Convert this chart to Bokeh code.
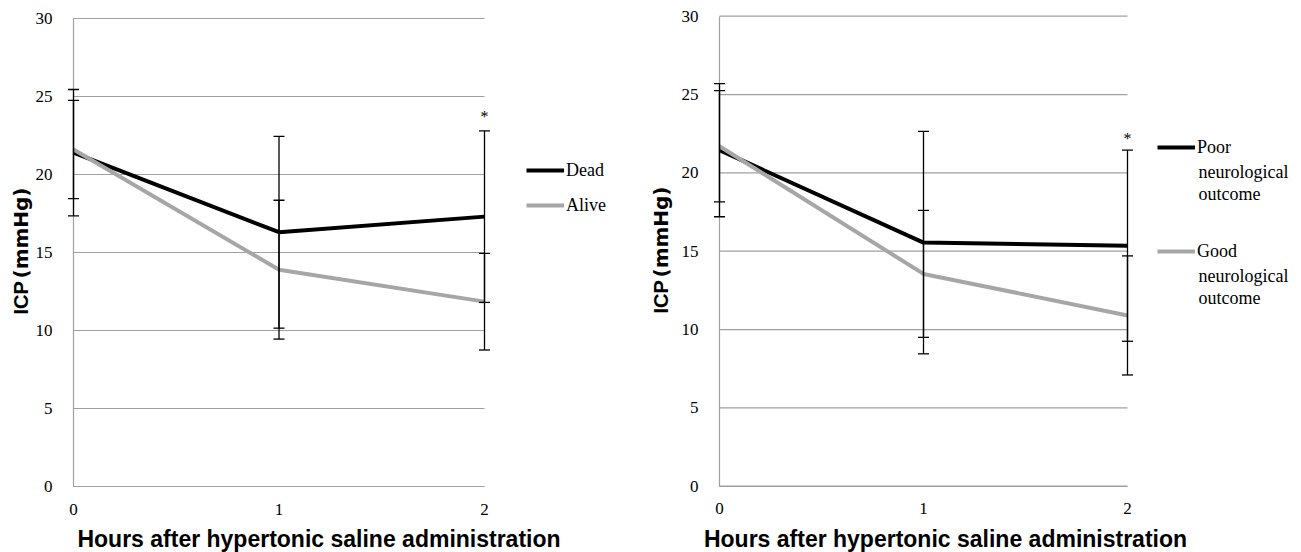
import math
import numpy as np
from bokeh.plotting import figure
from bokeh.models import (Range1d, FixedTicker, Whisker, TeeHead, ColumnDataSource,
                          Label, Legend, LegendItem, LinearAxis)
from bokeh.layouts import row
from bokeh.embed import file_html
from bokeh.resources import INLINE

# ---------------- data ----------------
hours = [0, 1, 2]
x_ticks = [0, 1, 2]
y_ticks = [0, 5, 10, 15, 20, 25, 30]

# Left panel: mortality
dead_mean = [21.4, 16.3, 17.3]
dead_sd = [4.05, 6.15, 5.5]
alive_mean = [21.6, 13.9, 11.85]
alive_sd = [3.15, 4.45, 3.1]
left_star_y = 23.7

# Right panel: neurological outcome
poor_mean = [21.45, 15.55, 15.35]
poor_sd = [4.25, 7.1, 6.1]
good_mean = [21.7, 13.55, 10.9]
good_sd = [3.55, 4.05, 3.8]
right_star_y = 22.2

x_title = "Hours after hypertonic saline administration"

BLACK = "#000000"
GRAY = "#a6a6a6"
GRID = "#a0a0a0"
SERIF = '"Liberation Serif", "Times New Roman", serif'
SANS = '"Liberation Sans", Arial, sans-serif'
H = 552


def panel(fig_left, width, x0px, x2px, y30px, y0px, series, star_y,
          legend_spec, extra_lines, ylab, xlab_cx):
    # map data area [0,2]x[0,30] to the given canvas pixels; frame = whole figure
    kx = (x2px - x0px) / 2.0
    ky = (y0px - y30px) / 30.0
    lx0 = x0px - fig_left
    xr = Range1d(-lx0 / kx, (width - lx0) / kx)
    yr = Range1d(-(H - y0px) / ky, 30 + y30px / ky)
    p = figure(width=width, height=H, output_backend="svg", toolbar_location=None,
               x_range=xr, y_range=yr, x_axis_location=None, y_axis_location=None,
               min_border=0, min_border_left=0, min_border_right=0,
               min_border_top=0, min_border_bottom=0)
    p.outline_line_color = None
    p.grid.visible = False

    # horizontal gridlines from the tick list
    n = len(y_ticks)
    p.segment(x0=[0] * n, y0=y_ticks, x1=[2] * n, y1=y_ticks,
              line_color=GRID, line_width=1.2)

    yax = LinearAxis(fixed_location=0, bounds=(0, 30), ticker=FixedTicker(ticks=y_ticks))
    xax = LinearAxis(fixed_location=0, bounds=(0, 2), ticker=FixedTicker(ticks=x_ticks))
    for ax in (xax, yax):
        ax.axis_line_color = GRID
        ax.axis_line_width = 1.2
        ax.major_tick_line_color = None
        ax.minor_tick_line_color = None
        ax.major_label_text_font = SERIF
        ax.major_label_text_font_size = "17px"
        ax.major_label_text_color = "#000000"
    yax.major_label_standoff = 15
    xax.major_label_standoff = 11
    p.add_layout(yax, "left")
    p.add_layout(xax, "below")

    renderers = []
    for mean, sd, color in series:
        r = p.line(hours, mean, line_color=color, line_width=4)
        renderers.append(r)
    for mean, sd, color in series:
        m = np.array(mean)
        s = np.array(sd)
        src = ColumnDataSource(dict(x=hours, upper=m + s, lower=m - s))
        w = Whisker(source=src, base="x", upper="upper", lower="lower",
                    line_color="black", line_width=1.3, level="annotation",
                    upper_head=TeeHead(size=11, line_color="black", line_width=1.3),
                    lower_head=TeeHead(size=11, line_color="black", line_width=1.3))
        p.add_layout(w)

    p.add_layout(Label(x=2, y=star_y, text="*", text_font=SERIF, text_font_size="16px",
                       text_align="center", text_baseline="middle", text_color="black"))

    # legend (positions in canvas pixels -> frame screen units)
    for (label, idx, cx, cy) in legend_spec:
        leg = Legend(items=[LegendItem(label=label, renderers=[renderers[idx]])],
                     location=(cx - fig_left, H - (cy + 11)), padding=0, margin=0, spacing=0,
                     glyph_width=38, glyph_height=22, label_height=22, label_standoff=2,
                     label_text_font=SERIF, label_text_font_size="18px",
                     label_text_color="black",
                     border_line_color=None, background_fill_alpha=0)
        p.add_layout(leg)
    for (txt, cx, cy) in extra_lines:
        p.add_layout(Label(x=cx - fig_left, y=H - cy, x_units="screen", y_units="screen", text=txt,
                           text_font=SERIF, text_font_size="18px", text_align="left",
                           text_baseline="middle", text_color="black"))

    # axis titles
    ycx, ycy = ylab
    p.add_layout(Label(x=ycx - fig_left, y=H - ycy, x_units="screen", y_units="screen", text="ICP",
                       text_font=SANS, text_font_style="bold", text_font_size="20px",
                       text_color="black",
                       angle=math.pi / 2, text_align="left", text_baseline="middle"))
    p.add_layout(Label(x=ycx - fig_left, y=H - ycy + 36, x_units="screen", y_units="screen",
                       text="(mmHg)",
                       text_font='"DejaVu Sans", sans-serif', text_font_style="bold",
                       text_font_size="20px", text_color="black",
                       angle=math.pi / 2, text_align="left", text_baseline="middle"))
    p.add_layout(Label(x=xlab_cx - fig_left, y=1, x_units="screen", y_units="screen", text=x_title,
                       text_font=SANS, text_font_style="bold", text_font_size="23px",
                       text_color="black",
                       text_align="center", text_baseline="bottom"))
    return p


p1 = panel(0, 648, 73, 484, 18, 486,
           [(dead_mean, dead_sd, BLACK), (alive_mean, alive_sd, GRAY)],
           left_star_y,
           [("Dead", 0, 526, 170), ("Alive", 1, 526, 205)],
           [],
           (20, 314), 318.5)

p2 = panel(648, 653, 719, 1127, 15.7, 485.7,
           [(poor_mean, poor_sd, BLACK), (good_mean, good_sd, GRAY)],
           right_star_y,
           [("Poor", 0, 1157, 147), ("Good", 1, 1157, 251)],
           [("neurological", 1198, 171), ("outcome", 1198, 193),
            ("neurological", 1198, 275), ("outcome", 1198, 297)],
           (660, 313), 945)

layout = row(p1, p2)
open("out.html", "w").write(file_html(layout, INLINE))
